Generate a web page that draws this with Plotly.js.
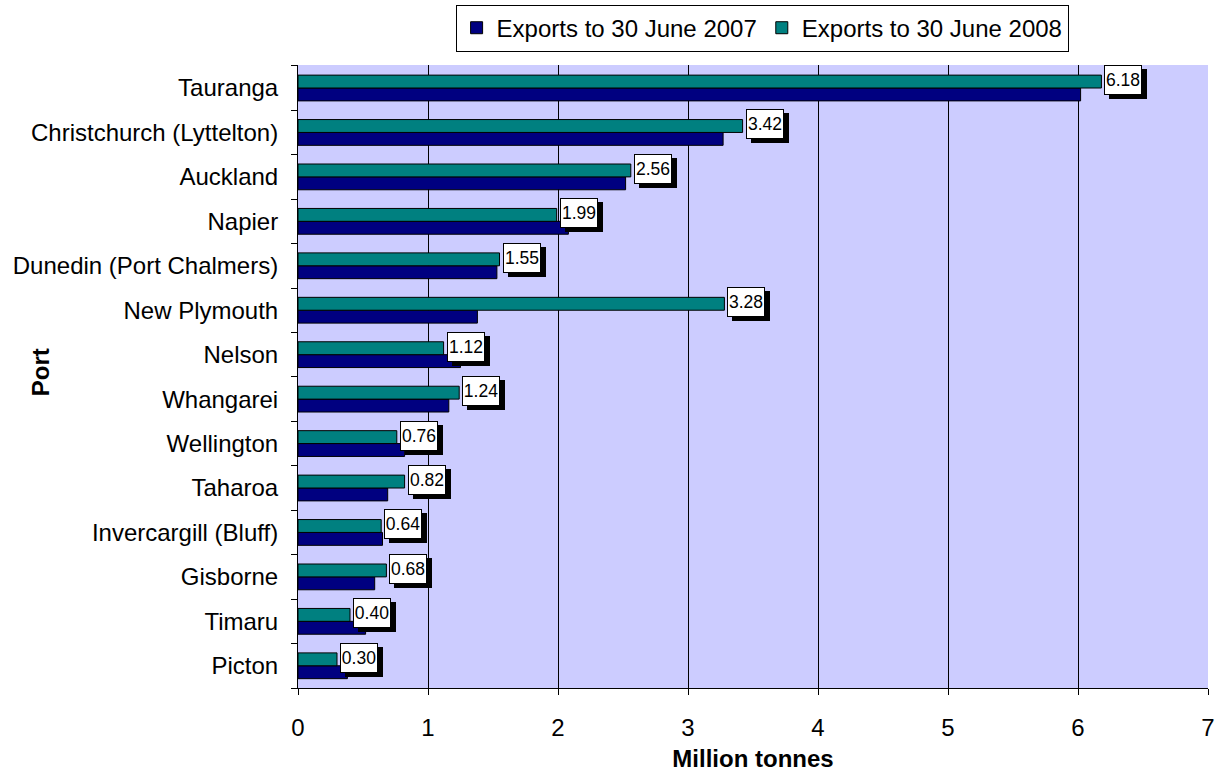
<!DOCTYPE html>
<html>
<head>
<meta charset="utf-8">
<script src="https://cdn.plot.ly/plotly-3.0.1.min.js"></script>
<style>html,body{margin:0;padding:0;background:#fff;}#chart{width:1220px;height:772px;}</style>
</head>
<body>
<div id="chart"></div>
<script>
// Ports listed bottom-to-top (Picton at bottom, Tauranga at top)
const ports = ["Picton","Timaru","Gisborne","Invercargill (Bluff)","Taharoa","Wellington","Whangarei","Nelson","New Plymouth","Dunedin (Port Chalmers)","Napier","Auckland","Christchurch (Lyttelton)","Tauranga"];
const exports2007 = [0.38,0.52,0.59,0.65,0.69,0.82,1.16,1.25,1.38,1.53,2.08,2.52,3.27,6.02];
const exports2008 = [0.30,0.40,0.68,0.64,0.82,0.76,1.24,1.12,3.28,1.55,1.99,2.56,3.42,6.18];
const seriesNames = ["Exports to 30 June 2007","Exports to 30 June 2008"];
const xTicks = [0,1,2,3,4,5,6,7];

const FONT = "Liberation Sans, Arial, sans-serif";

const traces = [
  {type:"bar", orientation:"h", name:seriesNames[0], y:ports, x:exports2007,
   marker:{color:"#000080", line:{color:"#000000", width:1}}, hoverinfo:"x+y"},
  {type:"bar", orientation:"h", name:seriesNames[1], y:ports, x:exports2008,
   marker:{color:"#008080", line:{color:"#000000", width:1}}, hoverinfo:"x+y"}
];

const annotations = [];
ports.forEach((p,i)=>{
  const v = exports2008[i];
  const txt = v.toFixed(2);
  // shadow box
  annotations.push({x:v, y:p, xref:"x", yref:"y", text:" ", showarrow:false,
    xanchor:"left", yanchor:"middle", xshift:8, yshift:4,
    width:34, height:26, bgcolor:"#000000", bordercolor:"#000000", borderwidth:1, borderpad:1,
    font:{family:FONT, size:17.5, color:"#000000"}});
  // label box
  annotations.push({x:v, y:p, xref:"x", yref:"y", text:txt, showarrow:false,
    xanchor:"left", yanchor:"middle", xshift:3, yshift:8,
    width:34, height:26, bgcolor:"#FFFFFF", bordercolor:"#000000", borderwidth:1, borderpad:1,
    font:{family:FONT, size:17.5, color:"#000000"}});
});
annotations.push({xref:"paper", yref:"paper", x:-0.2835, y:0.507, xanchor:"center", yanchor:"middle",
  text:"<b>Port</b>", textangle:-90,
  showarrow:false, font:{family:FONT, size:24, color:"#000000"}});

const layout = {
  width:1220, height:772,
  margin:{l:298, r:12, t:65, b:84, autoexpand:false},
  paper_bgcolor:"#FFFFFF", plot_bgcolor:"#CCCCFF",
  barmode:"group", bargap:0.42, bargroupgap:0,
  font:{family:FONT, size:24, color:"#000000"},
  showlegend:true,
  legend:{orientation:"h", x:0.510, xanchor:"center", xref:"paper",
    y:0.994, yanchor:"top", yref:"container",
    bgcolor:"#FFFFFF", bordercolor:"#000000", borderwidth:1,
    font:{family:FONT, size:24, color:"#000000"}, traceorder:"normal",
    itemwidth:30, tracegroupgap:0},
  xaxis:{range:[0,7], tickvals:xTicks, ticktext:xTicks.map(String),
    showgrid:true, gridcolor:"#000000", gridwidth:1, zeroline:false,
    showline:true, linecolor:"#000000", linewidth:1,
    ticks:"outside", ticklen:6, tickcolor:"#000000", ticklabelstandoff:12,
    tickfont:{family:FONT, size:24, color:"#000000"},
    title:{text:"<b>Million tonnes</b>", standoff:10, font:{family:FONT, size:24, color:"#000000"}},
    fixedrange:true},
  yaxis:{type:"category", showgrid:false, zeroline:false,
    showline:true, linecolor:"#000000", linewidth:1,
    ticks:"outside", ticklen:6, tickcolor:"#000000", tickson:"boundaries", ticklabelstandoff:14,
    tickfont:{family:FONT, size:24, color:"#000000"}, fixedrange:true},
  annotations:annotations
};

Plotly.newPlot("chart", traces, layout, {displayModeBar:false, staticPlot:true});
</script>
</body>
</html>
